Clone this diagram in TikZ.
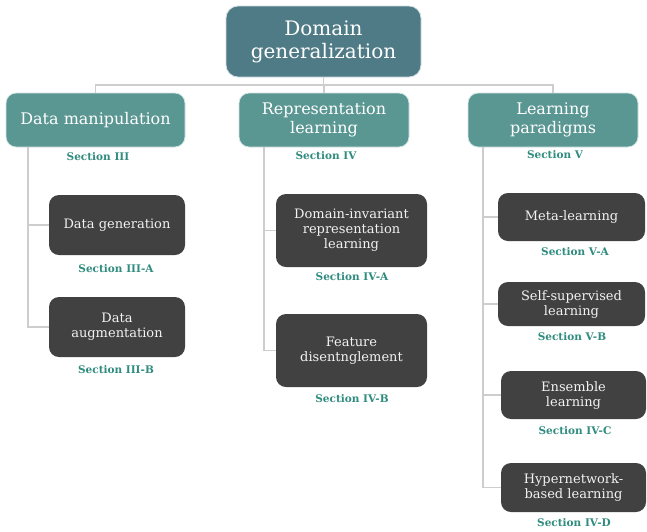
\documentclass[tikz,border=0pt]{standalone}
\usepackage{fontspec}
\setmainfont{DejaVu Serif}
\definecolor{rootc}{HTML}{4F7B86}
\definecolor{midc}{HTML}{5A9793}
\definecolor{darkc}{HTML}{414141}
\definecolor{secc}{HTML}{2F8C7E}
\definecolor{linec}{HTML}{CDCDCD}
\begin{document}
\begin{tikzpicture}[x=1pt,y=-1pt,
  rootbox/.style={fill=rootc,draw=white!75!rootc,line width=0.8pt,rounded corners=12pt,text=white,align=center,inner sep=0pt,font=\fontsize{20}{23}\selectfont},
  midbox/.style={fill=midc,draw=white!75!midc,line width=0.8pt,rounded corners=10pt,text=white,align=center,inner sep=0pt,font=\fontsize{16}{19}\selectfont,minimum height=54pt},
  leafbox/.style={fill=darkc,rounded corners=10pt,text=white!95!black,align=center,inner sep=0pt,font=\fontsize{13}{15}\selectfont},
  sec/.style={text=secc,inner sep=0pt,font=\bfseries\fontsize{10.5}{12}\selectfont},
  conn/.style={draw=linec,line width=1.3pt}]
\useasboundingbox (0,0) rectangle (647,531);
\fill[white] (0,0) rectangle (647,531);
% top levels
\node[rootbox,minimum width=195pt,minimum height=71pt] (root) at (323.5,41.5) {Domain\\generalization};
\node[midbox,minimum width=179pt] (dm) at (95.5,120) {Data manipulation};
\node[midbox,minimum width=170pt] (rl) at (324,120) {Representation\\learning};
\node[midbox,minimum width=170pt] (lp) at (553,120) {Learning\\paradigms};
\node[sec] (s3) at (98,157) {Section III};
\node[sec] (s4) at (326,156) {Section IV};
\node[sec] (s5) at (555,155) {Section V};
% leaves
\node[leafbox,minimum width=136pt,minimum height=60pt] (dg) at (117,225) {Data generation};
\node[leafbox,minimum width=136pt,minimum height=60pt] (da) at (117,327) {Data\\augmentation};
\node[sec] (s3a) at (116,269) {Section III-A};
\node[sec] (s3b) at (116,370) {Section III-B};
\node[leafbox,minimum width=151pt,minimum height=73pt] (dirl) at (351.5,230.5) {Domain-invariant\\representation\\learning};
\node[leafbox,minimum width=151pt,minimum height=73pt] (fd) at (351.5,350.5) {Feature\\disentnglement};
\node[sec] (s4a) at (352,277) {Section IV-A};
\node[sec] (s4b) at (352,399) {Section IV-B};
\node[leafbox,minimum width=147pt,minimum height=48pt] (ml) at (571.5,217) {Meta-learning};
\node[leafbox,minimum width=147pt,minimum height=44pt] (ss) at (571.5,304) {Self-supervised\\learning};
\node[leafbox,minimum width=145pt,minimum height=48pt] (el) at (573.5,395) {Ensemble\\learning};
\node[leafbox,minimum width=145pt,minimum height=49pt] (hn) at (573.5,487.5) {Hypernetwork-\\based learning};
\node[sec] (s5a) at (575,252) {Section V-A};
\node[sec] (s5b) at (572,337) {Section V-B};
\node[sec] (s4c) at (575,431) {Section IV-C};
\node[sec] (s4d) at (574,523) {Section IV-D};
% connectors
\coordinate (bus) at (0,85);
\coordinate (lv) at (28,0);
\coordinate (mv) at (264,0);
\coordinate (rv) at (483,0);
\draw[conn] (root.south) -- (root.south |- bus);
\draw[conn] (dm.north) -- (dm.north |- bus) -- (lp.north |- bus) -- (lp.north);
\draw[conn] (rl.north) -- (rl.north |- bus);
\draw[conn] (dm.south -| lv) |- (dg.west);
\draw[conn] (dm.south -| lv) |- (da.west);
\draw[conn] (rl.south -| mv) |- (dirl.west);
\draw[conn] (rl.south -| mv) |- (fd.west);
\draw[conn] (lp.south -| rv) |- (ml.west);
\draw[conn] (lp.south -| rv) |- (ss.west);
\draw[conn] (lp.south -| rv) |- (el.west);
\draw[conn] (lp.south -| rv) |- (hn.west);
\end{tikzpicture}
\end{document}
